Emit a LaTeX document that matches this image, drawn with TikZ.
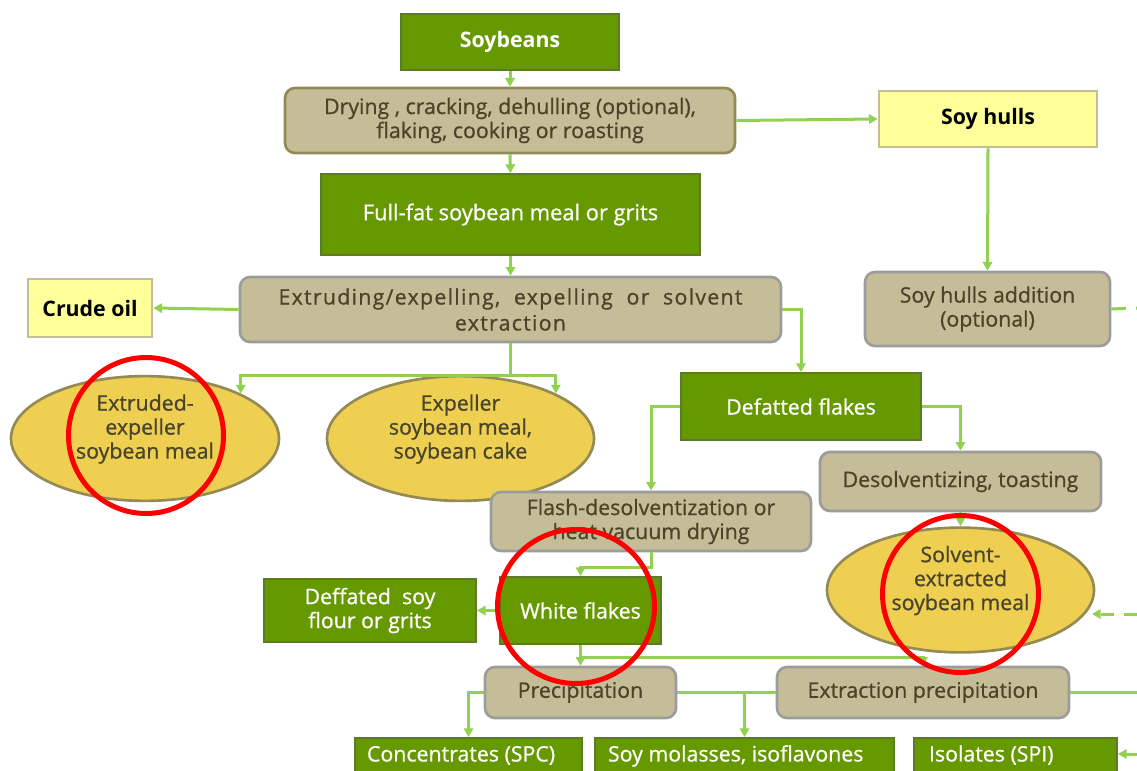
\documentclass[tikz,border=0pt]{standalone}
\usepackage{fontspec}
\setmainfont{Open Sans}[UprightFeatures={FakeBold=0.8}]
\usetikzlibrary{shapes.geometric,arrows.meta,calc}
\definecolor{dgreen}{HTML}{669900}
\definecolor{dgreenb}{HTML}{5B7B2B}
\definecolor{tanf}{HTML}{C4BD97}
\definecolor{olb}{HTML}{948A54}
\definecolor{grayb}{HTML}{9C9C9C}
\definecolor{yel}{HTML}{FFFF99}
\definecolor{ellf}{HTML}{EECF52}
\definecolor{ellb}{HTML}{948A54}
\definecolor{cgreen}{HTML}{92D050}
\definecolor{txt}{HTML}{4A452A}
\begin{document}
\begin{tikzpicture}[x=0.75pt,y=-0.75pt,
  every node/.style={font=\fontsize{16pt}{18pt}\selectfont},
  sz/.style 2 args={minimum width=#1*0.75pt,minimum height=#2*0.75pt},
  gb/.style={rectangle,fill=dgreen,draw=dgreenb,line width=1.5pt,text=white,inner sep=0pt},
  gbox/.style={gb,align=center},
  tbox/.style={rectangle,rounded corners=7.5pt,fill=tanf,draw=grayb,line width=2pt,text=txt,inner sep=0pt,align=center},
  ybox/.style={rectangle,fill=yel,draw=tanf,line width=2pt,text=black,inner sep=0pt,font=\fontsize{16pt}{18pt}\selectfont\bfseries},
  ell/.style={ellipse,fill=ellf,draw=ellb,line width=2pt,text=txt,inner sep=0pt,align=center},
  cline/.style={draw=cgreen,line width=2.25pt},
  carr/.style={cline,-{Triangle[length=6.5pt,width=7pt]}},
  redring/.style={draw=red,line width=3.75pt}]
\fill[white] (0,0) rectangle (1137,770);
\useasboundingbox (0,0) rectangle (1137,770);

% nodes
\node[gbox,sz={218}{56},font=\fontsize{16pt}{18pt}\selectfont\bfseries] (soy) at (510,42) {Soybeans};
\node[tbox,draw=olb,sz={450}{65}] (dry) at (510,120.5) {Drying , cracking, dehulling (optional),\\flaking, cooking or roasting};
\node[gbox,sz={379}{81},font=\fontsize{16.4pt}{18pt}\selectfont] (full) at (510.5,214.5) {Full-fat soybean meal or grits};
\node[tbox,sz={541}{65},font=\fontsize{16pt}{19.5pt}\selectfont\addfontfeature{LetterSpace=6}] (ext) at (510.5,309.5) {Extruding/expelling,~ expelling~ or~ solvent\\extraction};
\node[ybox,sz={124}{58}] (crude) at (90,308) {Crude oil};
\node[ybox,sz={218}{56}] (hulls) at (988,119) {Soy hulls};
\node[tbox,sz={245}{74}] (add) at (987.5,309) {Soy hulls addition\\(optional)};
\node[ell,sz={268}{101}] (ell1) at (145,438.5) {Extruded-\\expeller\\soybean meal\\\mbox{}};
\node[ell,sz={267}{101}] (ell2) at (460.5,438.5) {Expeller\\soybean meal,\\soybean cake\\\mbox{}};
\node[gbox,sz={240}{67}] (def) at (801,406.5) {Defatted flakes};
\node[tbox,sz={281}{59}] (des) at (960.5,481.5) {Desolventizing, toasting};
\node[tbox,sz={320}{59}] (flash) at (651,521.5) {Flash-desolventization or\\heat vacuum drying};
\node[ell,sz={267}{100}] (ell3) at (960.5,590) {Solvent-\\extracted\\soybean meal\\\mbox{}};
\node[gbox,sz={161}{67}] (wf) at (580.5,610.5) {White flakes};
\node[gbox,sz={212}{63}] (flour) at (370,610.5) {Deffated~ soy\\flour or grits};
\node[tbox,sz={191}{51}] (prec) at (580.5,692.5) {Precipitation};
\node[tbox,sz={292}{51}] (exprec) at (923,692.5) {Extraction precipitation};
\node[gb,anchor=north west,text height=17.6pt,text depth=45pt] (conc) at (354,737) {\makebox[170.25pt][l]{\hspace*{9pt}Concentrates (SPC)}};
\node[gb,anchor=north west,text height=17.6pt,text depth=45pt] (mol) at (594,737) {\makebox[224.25pt][l]{\hspace*{9.75pt}Soy molasses, isoflavones}};
\node[gb,anchor=north west,text height=17.6pt,text depth=45pt] (iso) at (913,737) {\makebox[152.25pt][l]{\hspace*{11.25pt}Isolates (SPI)}};

% free ends at the picture edge
\coordinate (eA) at (1137,308);
\coordinate (eB) at (1137,614);
\coordinate (tB) at (1092,614);
\coordinate (eD) at (1137,692.5);
\coordinate (eC) at (1137,754);

% connectors
\draw[carr] (soy.south) -- (dry.north);
\draw[carr] (dry.south) -- (full.north);
\draw[carr] (dry.east) -- (hulls.west);
\draw[carr] (hulls.south) -- (add.north);
\draw[carr] (full.south) -- (ext.north);
\draw[carr] (ext.west) -- (crude.east);
\draw[cline] (ext.south) -- ++(0,32) coordinate (j1);
\draw[carr] (j1) -| (ell1.north east);
\draw[carr] (j1) -| (ell2.north east);
\draw[carr] (ext.east) -| (def.north);
\draw[carr] (def.west) -| (flash.north);
\draw[carr] (def.east) -| (des.north);
\draw[carr] (des.south) -- (ell3.north);
\draw[carr] (flash.south) -- ++(0,15) -| (wf.north);
\draw[carr] (wf.west) -- (flour.east);
\draw[carr] (wf.south) -- (prec.north);
\draw[carr] ($(wf.south)+(0,12)$) -| (exprec.north);
\draw[carr] (prec.west) -| (conc.north);
\draw[cline] (prec.east) -- (exprec.west);
\draw[carr] (prec.east -| mol.north) -- (mol.north);
\draw[cline] (exprec.east) -- (eD);
\draw[cline,dash pattern=on 11pt off 7.5pt] (add.east) -- (eA);
\draw[carr,dash pattern=on 10pt off 7pt] (eB) -- (tB);
\draw[carr] (eC) -- (iso.east |- eC);

% red annotation rings
\draw[redring] (146,435.5) ellipse [x radius=77.5, y radius=78];
\draw[redring] (576,606.5) ellipse [x radius=78.5, y radius=77];
\draw[redring] (960.5,594) ellipse [x radius=78, y radius=78.5];
\end{tikzpicture}
\end{document}
